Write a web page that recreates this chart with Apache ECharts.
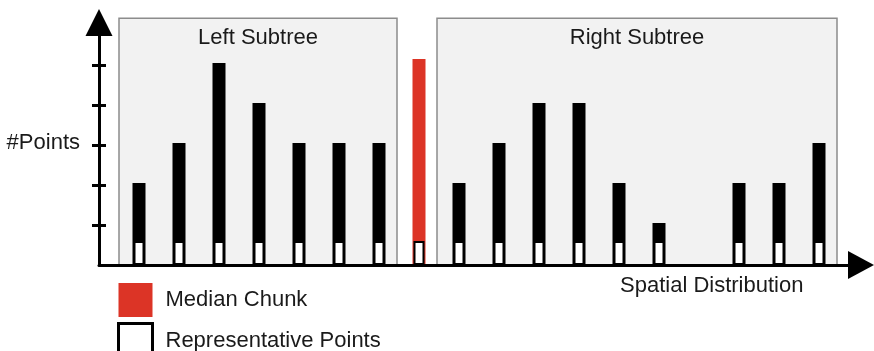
<!DOCTYPE html>
<html>
<head>
    <meta charset="utf-8">
    <title>Subtree chunks</title>
    <script src="https://cdn.jsdelivr.net/npm/echarts@6/dist/echarts.min.js"></script>
    <style>
        html, body { margin: 0; padding: 0; background: #fff; }
    </style>
</head>
<body>
    <div id="main" style="width: 874px;height:351px;"></div>
    <script type="text/javascript">
    // slot positions along the spatial axis (one per chunk)
    var slots = [1, 2, 3, 4, 5, 6, 7, 8, 9, 10, 11, 12, 13, 14, 15, 16, 17, 18];
    // #points per chunk, the median chunk sits at slot 8, slot 15 is empty
    var chunkHeights = [2.05, 3.05, 5.05, 4.05, 3.05, 3.05, 3.05, null, 2.05, 3.05, 4.05, 4.05, 2.05, 1.05, null, 2.05, 2.05, 3.05];
    var medianHeights = [null, null, null, null, null, null, null, 5.15, null, null, null, null, null, null, null, null, null, null];
    var repHeights = [0.6, 0.6, 0.6, 0.6, 0.6, 0.6, 0.6, 0.6, 0.6, 0.6, 0.6, 0.6, 0.6, 0.6, null, 0.6, 0.6, 0.6];
    var yTicks = [1, 2, 3, 4, 5];

    var font = '"Liberation Sans", Arial, sans-serif';
    var textColor = '#1a1a1a';

    function pairs(values) {
        var out = [];
        for (var i = 0; i < slots.length; i++) {
            if (values[i] != null) {
                out.push([slots[i], values[i]]);
            }
        }
        return out;
    }

    var myChart = echarts.init(document.getElementById('main'));

    var yBase = {
        type: 'value',
        min: 0,
        max: 6.2,
        axisLabel: { show: false },
        splitLine: { show: false },
        z: 10
    };

    var option = {
        animation: false,
        grid: {
            left: 99,
            right: 13,
            top: 17,
            bottom: 86,
            outerBoundsMode: 'none'
        },
        legend: {
            orient: 'vertical',
            left: 117,
            top: 283,
            height: 100,
            padding: 0,
            itemWidth: 34,
            itemHeight: 34,
            itemGap: 5,
            icon: 'rect',
            selectedMode: false,
            textStyle: {
                fontSize: 22,
                fontFamily: font,
                color: textColor,
                padding: [0, 0, 0, 8]
            },
            data: [
                { name: 'Median Chunk' },
                { name: 'Representative Points', itemStyle: { color: '#fff', borderColor: '#000', borderWidth: 3 } }
            ]
        },
        graphic: [{
            type: 'text',
            x: 80,
            y: 142.5,
            style: {
                text: '#Points',
                font: '22px ' + font,
                fill: textColor,
                textAlign: 'right',
                textVerticalAlign: 'middle'
            }
        }, {
            type: 'text',
            x: 620,
            y: 285.5,
            style: {
                text: 'Spatial Distribution',
                font: '22px ' + font,
                fill: textColor,
                textAlign: 'left',
                textVerticalAlign: 'middle'
            }
        }],
        xAxis: [{
            type: 'value',
            min: 0,
            max: 19.05,
            axisLine: {
                symbol: ['none', 'triangle'],
                symbolSize: [28, 26],
                lineStyle: { color: '#000', width: 3 }
            },
            axisTick: { show: false },
            axisLabel: { show: false },
            splitLine: { show: false },
            z: 10
        }, {
            type: 'value',
            min: 0,
            max: 19.05,
            show: false
        }],
        yAxis: [echarts.util.merge({
            position: 'left',
            axisLine: {
                show: true,
                symbol: ['none', 'triangle'],
                symbolSize: [27, 27],
                symbolOffset: [0, -5.5],
                lineStyle: { color: '#000', width: 3 }
            },
            axisTick: {
                show: true,
                customValues: yTicks,
                length: 7,
                lineStyle: { color: '#000', width: 3 }
            }
        }, yBase), echarts.util.merge({
            position: 'left',
            axisLine: { show: false },
            axisTick: {
                show: true,
                inside: true,
                customValues: yTicks,
                length: 7,
                lineStyle: { color: '#000', width: 3 }
            }
        }, yBase)],
        series: [{
            name: 'Subtree Chunks',
            type: 'bar',
            xAxisIndex: 0,
            yAxisIndex: 0,
            barWidth: 13,
            barGap: '-100%',
            itemStyle: { color: '#000' },
            data: pairs(chunkHeights),
            markArea: {
                silent: true,
                itemStyle: {
                    color: '#f2f2f2',
                    borderColor: '#8c8c8c',
                    borderWidth: 1.5
                },
                label: {
                    position: 'insideTop',
                    distance: 9,
                    fontSize: 22,
                    fontFamily: font,
                    color: textColor
                },
                data: [
                    [{ name: 'Left Subtree', xAxis: 0.5, yAxis: 0 }, { xAxis: 7.45, yAxis: 6.17 }],
                    [{ name: 'Right Subtree', xAxis: 8.45, yAxis: 0 }, { xAxis: 18.45, yAxis: 6.17 }]
                ]
            }
        }, {
            name: 'Median Chunk',
            type: 'bar',
            xAxisIndex: 0,
            yAxisIndex: 0,
            barWidth: 13,
            barGap: '-100%',
            itemStyle: { color: '#dc3426' },
            data: pairs(medianHeights)
        }, {
            name: 'Representative Points',
            type: 'bar',
            xAxisIndex: 1,
            yAxisIndex: 0,
            barWidth: 11,
            itemStyle: { color: '#fff', borderColor: '#000', borderWidth: 2 },
            data: pairs(repHeights)
        }]
    };
    myChart.setOption(option);
    </script>
</body>
</html>
